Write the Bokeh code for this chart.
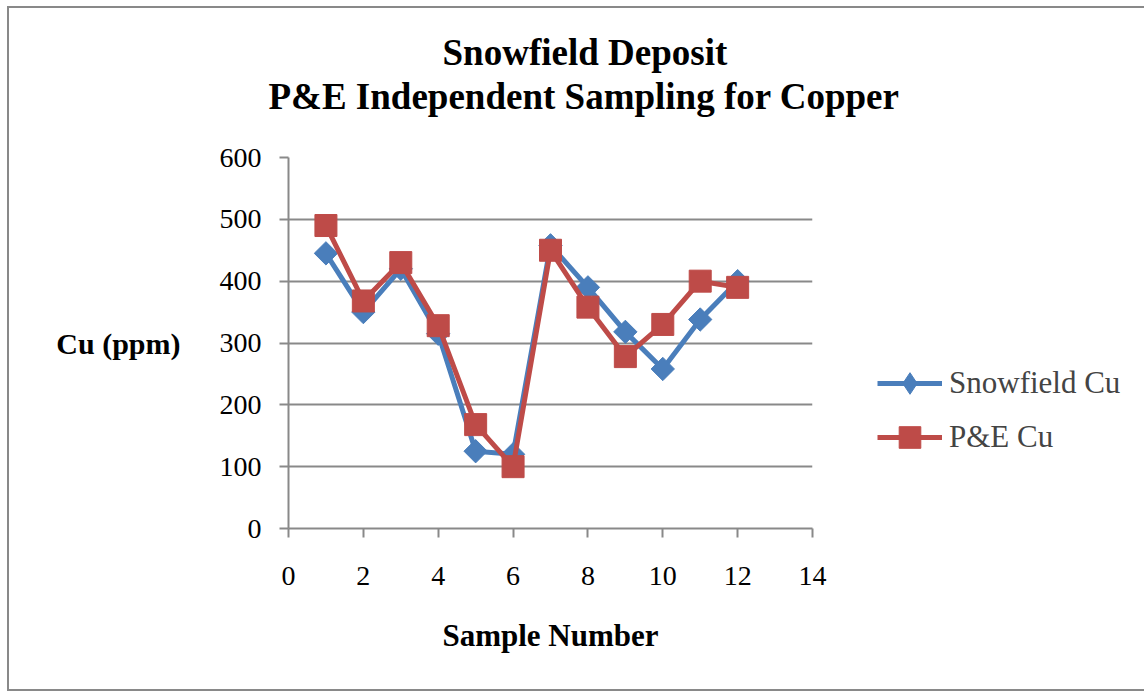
import math
from bokeh.plotting import figure
from bokeh.models import Range1d, FixedTicker, Legend, LegendItem, Title
from bokeh.embed import file_html
from bokeh.resources import INLINE

sample = [1, 2, 3, 4, 5, 6, 7, 8, 9, 10, 11, 12]
snowfield_cu = [445, 350, 420, 315, 125, 120, 458, 390, 318, 258, 338, 400]
pe_cu = [490, 368, 430, 328, 168, 100, 450, 358, 278, 330, 400, 390]
x_ticks = [0, 2, 4, 6, 8, 10, 12, 14]
y_ticks = [0, 100, 200, 300, 400, 500, 600]

FONT = "Liberation Serif"
BLUE = "#4a7ebb"
RED = "#be4b48"
GRAY = "#898989"

p = figure(
    output_backend="svg", toolbar_location=None,
    frame_width=524, frame_height=371,
    min_border_left=279, min_border_right=329,
    min_border_top=149, min_border_bottom=161,
    x_range=Range1d(0, 14), y_range=Range1d(0, 600),
    styles={"margin-left": "7px", "margin-top": "6px",
            "border-left": "2px solid #898989", "border-top": "2px solid #898989",
            "border-bottom": "2px solid #898989"},
)
p.outline_line_color = None
p.background_fill_color = "white"
p.border_fill_color = "white"

p.xaxis.ticker = FixedTicker(ticks=x_ticks)
p.yaxis.ticker = FixedTicker(ticks=y_ticks)
for ax in (p.xaxis[0], p.yaxis[0]):
    ax.axis_line_color = GRAY
    ax.axis_line_width = 2
    ax.major_tick_line_color = GRAY
    ax.major_tick_line_width = 2
    ax.major_tick_out = 9
    ax.major_tick_in = 0
    ax.minor_tick_line_color = None
    ax.major_label_text_font = FONT
    ax.major_label_text_font_size = "28px"
    ax.major_label_text_color = "black"
    ax.axis_label_text_font = FONT
    ax.axis_label_text_font_style = "bold"
    ax.axis_label_text_color = "black"
p.xaxis.major_label_standoff = 29
p.yaxis.major_label_standoff = 18
p.xaxis.axis_label = "Sample Number"
p.xaxis.axis_label_text_font_size = "31px"
p.xaxis.axis_label_standoff = 30
p.yaxis.axis_label = "Cu (ppm)"
p.yaxis.axis_label_text_font_size = "30px"
p.yaxis.axis_label_standoff = 36
try:
    p.yaxis.axis_label_orientation = "horizontal"
except Exception:
    pass
p.xgrid.grid_line_color = None
p.ygrid.grid_line_color = GRAY
p.ygrid.grid_line_width = 2

l1 = p.line(sample, snowfield_cu, line_color=BLUE, line_width=5)
s1 = p.scatter(sample, snowfield_cu, marker="square", angle=math.pi / 4, size=16.5,
               fill_color=BLUE, line_color=BLUE)
l2 = p.line(sample, pe_cu, line_color=RED, line_width=5)
s2 = p.scatter(sample, pe_cu, marker="square", size=22, fill_color=RED, line_color=RED)
# legend-only key glyph (a single undrawable NaN point) so the key shows a diamond
key1 = p.scatter(x=[float("nan")], y=[float("nan")], marker="diamond",
                 fill_color=BLUE, line_color=BLUE)

legend = Legend(
    items=[LegendItem(label="Snowfield Cu", renderers=[l1, key1]),
           LegendItem(label="P&E Cu", renderers=[l2, s2])],
    location=(65, 64), orientation="vertical",
    glyph_width=65, glyph_height=54, label_height=54, spacing=0,
    padding=0, margin=0, border_line_color=None, background_fill_alpha=0,
    label_text_font=FONT, label_text_font_size="31px", label_standoff=7,
)
p.add_layout(legend, "right")

p.title = None
spacer = Title(text=" ", text_font_size="1px", standoff=37)
t2 = Title(text="P&E Independent Sampling for Copper", align="left", offset=-20,
           text_font=FONT, text_font_style="bold", text_font_size="37px",
           text_color="black", standoff=2)
t1 = Title(text="Snowfield Deposit", align="left", offset=154,
           text_font=FONT, text_font_style="bold", text_font_size="37px",
           text_color="black", standoff=0)
p.add_layout(spacer, "above")
p.add_layout(t2, "above")
p.add_layout(t1, "above")

open("out.html", "w").write(file_html(p, INLINE))
